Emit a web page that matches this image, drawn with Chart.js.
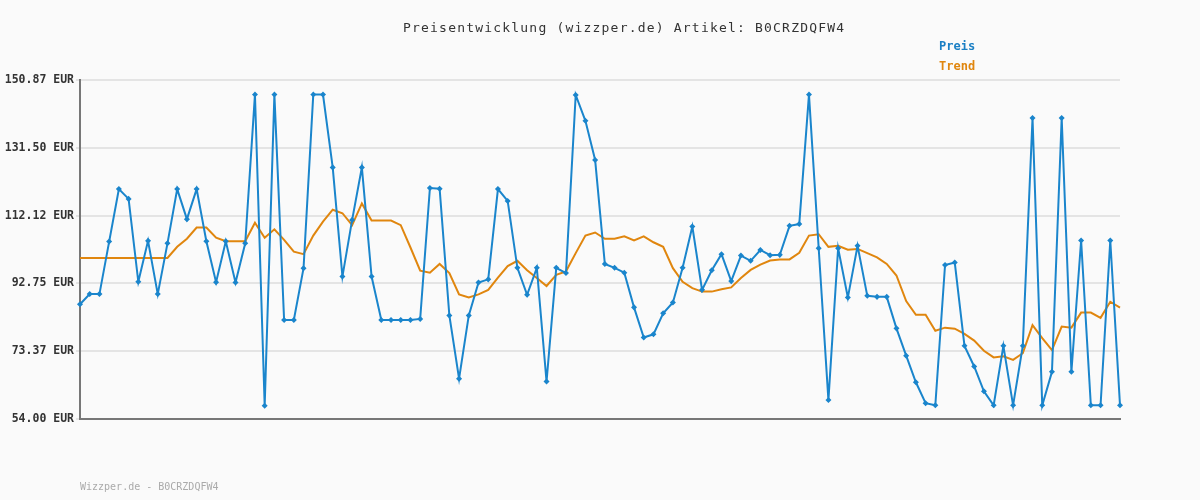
<!DOCTYPE html>
<html>
<head>
<meta charset="utf-8">
<script src="https://cdn.jsdelivr.net/npm/chart.js@4"></script>
<style>
  body { margin: 0; background: #fafafa; font-family: "DejaVu Sans Mono", monospace; }
  #wrap { position: relative; width: 1200px; height: 500px; }
  .txt { position: absolute; font-size: 13px; white-space: pre; }
</style>
</head>
<body>
<div id="wrap">
  <canvas id="c" width="1200" height="500"></canvas>
  <div class="txt" style="left:403px;top:20px;color:#333;letter-spacing:1.2px;">Preisentwicklung (wizzper.de) Artikel: B0CRZDQFW4</div>
  <div class="txt" style="left:939px;top:39px;color:#1a7fc4;font-weight:bold;font-size:12px;">Preis</div>
  <div class="txt" style="left:939px;top:59px;color:#e0860e;font-weight:bold;font-size:12px;">Trend</div>
  <div class="txt" style="left:80px;top:481px;color:#aaa;font-size:10px;">Wizzper.de - B0CRZDQFW4</div>
</div>
<script>
const preis = [86.8, 89.7, 89.7, 104.7, 119.7, 116.9, 93.2, 104.9, 89.7, 104.2,
  119.7, 111.1, 119.7, 104.8, 93.1, 104.8, 93.0, 104.2, 146.7, 57.8,
  146.7, 82.3, 82.3, 97.1, 146.7, 146.7, 125.9, 94.7, 110.9, 125.9,
  94.7, 82.3, 82.3, 82.3, 82.3, 82.6, 120.0, 119.8, 83.6, 65.5,
  83.6, 93.0, 93.9, 119.7, 116.3, 97.2, 89.5, 97.2, 64.7, 97.2,
  95.7, 146.6, 139.2, 128.0, 98.3, 97.2, 95.8, 85.9, 77.3, 78.2,
  84.2, 87.3, 97.2, 109.0, 90.9, 96.5, 101.1, 93.4, 100.7, 99.2,
  102.3, 100.8, 100.9, 109.2, 109.7, 146.7, 102.8, 59.4, 102.8, 88.7,
  103.5, 89.2, 88.9, 88.9, 79.9, 72.1, 64.5, 58.5, 57.9, 98.0,
  98.7, 74.9, 69.0, 61.9, 57.9, 74.9, 57.9, 74.9, 140.0, 57.9,
  67.5, 140.0, 67.5, 105.0, 57.9, 57.9, 105.0, 57.9];
const trend = [100.0, 100.0, 100.0, 100.0, 100.0, 100.0, 100.0, 100.0, 100.0, 100.0,
  103.2, 105.5, 108.7, 108.7, 105.8, 104.8, 104.8, 104.8, 110.1, 105.8,
  108.2, 105.2, 101.8, 101.1, 106.4, 110.4, 113.8, 112.8, 109.4, 115.6,
  110.7, 110.7, 110.7, 109.4, 103.0, 96.4, 95.8, 98.3, 95.7, 89.6,
  88.7, 89.6, 90.9, 94.4, 97.7, 99.2, 96.5, 94.3, 92.0, 95.2,
  96.2, 101.4, 106.4, 107.3, 105.5, 105.5, 106.2, 105.0, 106.2, 104.5,
  103.2, 97.1, 93.2, 91.4, 90.4, 90.4, 91.1, 91.6, 94.3, 96.6,
  98.1, 99.3, 99.6, 99.6, 101.5, 106.4, 106.8, 103.2, 103.5, 102.4,
  102.6, 101.4, 100.2, 98.3, 95.0, 87.7, 83.8, 83.8, 79.2, 80.1,
  79.8, 78.3, 76.4, 73.5, 71.6, 71.9, 70.9, 72.8, 80.8, 77.1,
  73.7, 80.4, 80.1, 84.4, 84.4, 82.9, 87.5, 85.8];
const yTicks = [54.00, 73.37, 92.75, 112.12, 131.50, 150.87];
const labels = preis.map((_, i) => i + 1);

new Chart(document.getElementById('c'), {
  type: 'line',
  data: {
    labels: labels,
    datasets: [
      { label: 'Trend', data: trend, borderColor: '#e0860e', borderWidth: 2, pointRadius: 0, tension: 0, order: 2 },
      { label: 'Preis', data: preis, borderColor: '#1a85cc', borderWidth: 2, pointRadius: 1.6,
        pointStyle: 'rectRot', pointBackgroundColor: '#1a85cc', pointBorderColor: '#1a85cc', tension: 0, order: 1 }
    ]
  },
  options: {
    responsive: false,
    animation: false,
    layout: { padding: { left: 0, top: 80, right: 80, bottom: 81 } },
    plugins: { legend: { display: false }, tooltip: { enabled: false } },
    scales: {
      x: {
        offset: false,
        ticks: { display: false },
        grid: { display: false, drawTicks: false },
        border: { color: '#777', width: 2 }
      },
      y: {
        min: 54, max: 150.87,
        afterBuildTicks: axis => { axis.ticks = yTicks.map(v => ({ value: v })); },
        afterFit: axis => { axis.width = 80; },
        ticks: {
          callback: v => v.toFixed(2) + ' EUR',
          font: { family: 'DejaVu Sans Mono', size: 11.5, weight: 'bold' },
          color: '#333', padding: 2
        },
        grid: { color: '#e4e4e4', lineWidth: 2, drawTicks: true, tickLength: 4 },
        border: { color: '#777', width: 2 }
      }
    }
  }
});
</script>
</body>
</html>
